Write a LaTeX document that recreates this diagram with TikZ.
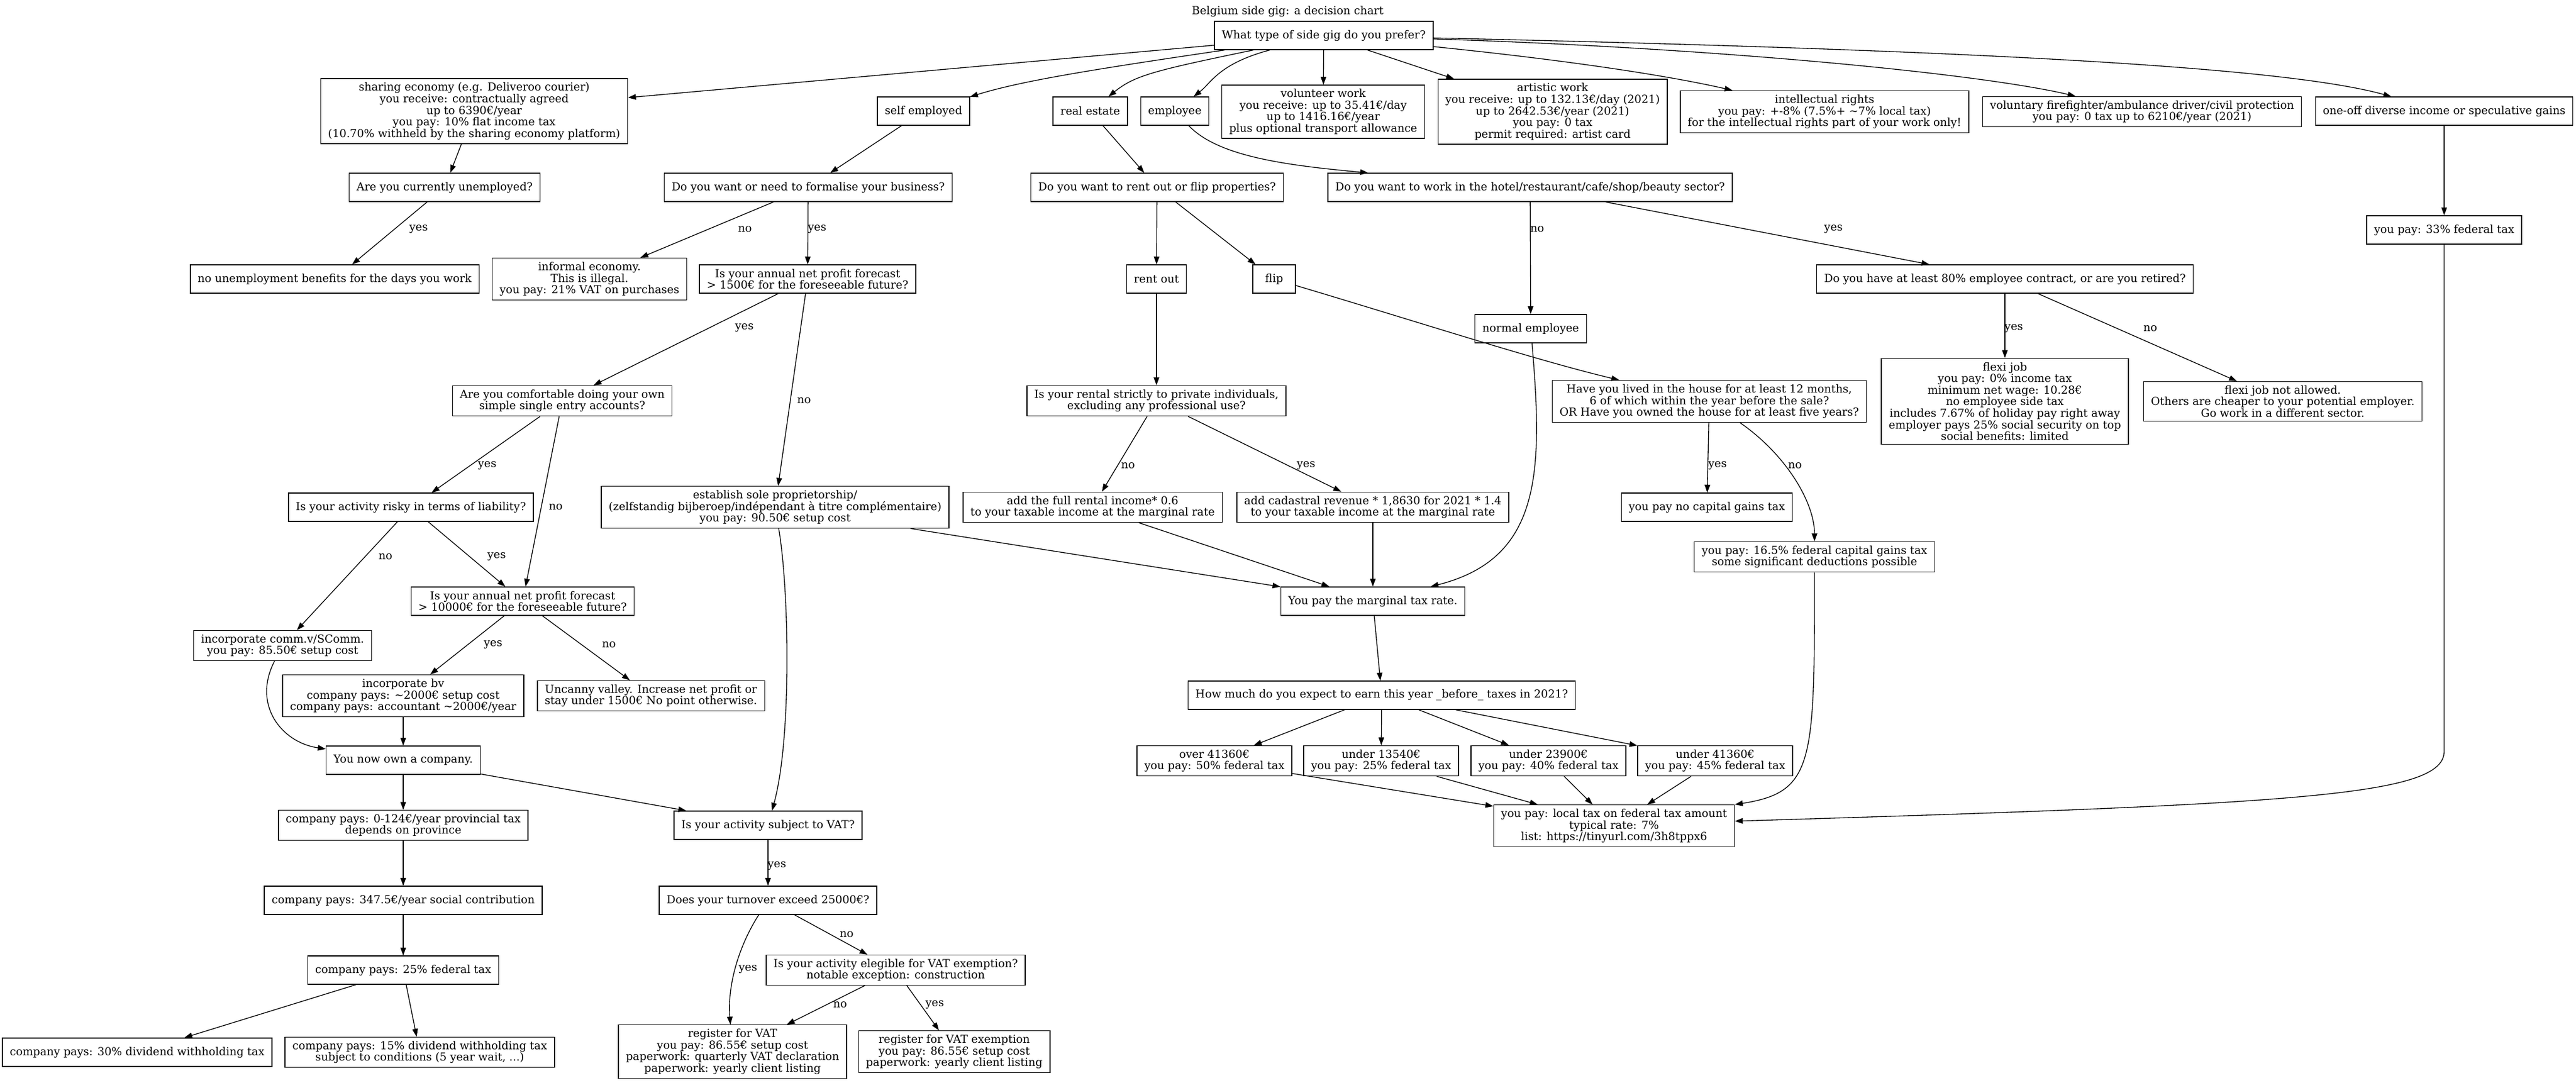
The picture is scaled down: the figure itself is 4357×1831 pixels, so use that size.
\documentclass[tikz,border=0pt]{standalone}
\usepackage{fontspec}
\setmainfont{DejaVu Serif}
\usetikzlibrary{arrows.meta,calc}

\begin{document}
\begin{tikzpicture}[x=0.75pt,y=-0.75pt]
		\tikzstyle{every node}=[font=\fontsize{14}{14.7}\selectfont]
		\tikzstyle{box}=[draw, line width=1pt, align=center, inner xsep=9.4pt, inner ysep=5pt, minimum width=54pt, minimum height=36pt]
		\tikzstyle{arr}=[line width=1pt, -{Triangle[length=10pt,width=7pt]}]
		\tikzstyle{lbl}=[inner sep=0pt]
		\useasboundingbox (0,0) rectangle (4357,1831);
		\node (title) at (2178,19) {Belgium side gig: a decision chart};
		\node [box] (root) at (2239,60) {What type of side gig do you prefer?};
		\node [box] (sharing) at (802,188) {sharing economy (e.g. Deliveroo courier)\\you receive: contractually agreed\\up to 6390€/year\\you pay: 10\% flat income tax\\(10.70\% withheld by the sharing economy platform)};
		\node [box] (selfemp) at (1562,188) {self employed};
		\node [box] (realestate) at (1844,188) {real estate};
		\node [box] (employee) at (1987,188) {employee};
		\node [box] (volunteer) at (2238,189) {volunteer work\\you receive: up to 35.41€/day\\up to 1416.16€/year\\plus optional transport allowance};
		\node [box] (artistic) at (2626,189) {artistic work\\you receive: up to 132.13€/day (2021)\\up to 2642.53€/year (2021)\\you pay: 0 tax\\permit required: artist card};
		\node [box] (intellectual) at (3086,189) {intellectual rights\\you pay: +-8\% (7.5\%+ \textasciitilde7\% local tax)\\for the intellectual rights part of your work only!};
		\node [box] (firefighter) at (3623,189) {voluntary firefighter/ambulance driver/civil protection\\you pay: 0 tax up to 6210€/year (2021)};
		\node [box] (oneoff) at (4134,188) {one-off diverse income or speculative gains};
		\node [box] (unemployed) at (752,317) {Are you currently unemployed?};
		\node [box] (formalise) at (1367,317) {Do you want or need to formalise your business?};
		\node [box] (rentflip) at (1957,317) {Do you want to rent out or flip properties?};
		\node [box] (hotel) at (2588,317) {Do you want to work in the hotel/restaurant/cafe/shop/beauty sector?};
		\node [box] (federal33) at (4134,389) {you pay: 33\% federal tax};
		\node [box] (nobenefits) at (566,472) {no unemployment benefits for the days you work};
		\node [box] (informal) at (997,472) {informal economy.\\This is illegal.\\you pay: 21\% VAT on purchases};
		\node [box] (profit1500) at (1366,472) {Is your annual net profit forecast\\> 1500€ for the foreseeable future?};
		\node [box] (rentout) at (1956,472) {rent out};
		\node [box] (flip) at (2155,472) {flip};
		\node [box] (contract80) at (3391,472) {Do you have at least 80\% employee contract, or are you retired?};
		\node [box] (normalemp) at (2589,556) {normal employee};
		\node [box] (accounts) at (951,678) {Are you comfortable doing your own\\simple single entry accounts?};
		\node [box] (rental) at (1956,678) {Is your rental strictly to private individuals,\\excluding any professional use?};
		\node [box] (lived) at (2891,679) {Have you lived in the house for at least 12 months,\\6 of which within the year before the sale?\\OR Have you owned the house for at least five years?};
		\node [box] (flexi) at (3391,679) {flexi job\\you pay: 0\% income tax\\minimum net wage: 10.28€\\no employee side tax\\includes 7.67\% of holiday pay right away\\employer pays 25\% social security on top\\social benefits: limited};
		\node [box] (flexino) at (3861,679) {flexi job not allowed.\\Others are cheaper to your potential employer.\\Go work in a different sector.};
		\node [box] (risky) at (695,858) {Is your activity risky in terms of liability?};
		\node [box] (soleprop) at (1311,858) {establish sole proprietorship/\\(zelfstandig bijberoep/indépendant à titre complémentaire)\\you pay: 90.50€ setup cost};
		\node [box] (fullrental) at (1848,858) {add the full rental income* 0.6\\to your taxable income at the marginal rate};
		\node [box] (cadastral) at (2322,858) {add cadastral revenue * 1,8630 for 2021 * 1.4\\to your taxable income at the marginal rate};
		\node [box] (nocgt) at (2887,858) {you pay no capital gains tax};
		\node [box] (cgt) at (3069,942) {you pay: 16.5\% federal capital gains tax\\some significant deductions possible};
		\node [box] (profit10000) at (884,1017) {Is your annual net profit forecast\\> 10000€ for the foreseeable future?};
		\node [box] (marginal) at (2322,1017) {You pay the marginal tax rate.};
		\node [box] (commv) at (478,1092) {incorporate comm.v/SComm.\\you pay: 85.50€ setup cost};
		\node [box] (bv) at (682,1177) {incorporate bv\\company pays: \textasciitilde2000€ setup cost\\company pays: accountant \textasciitilde2000€/year};
		\node [box] (uncanny) at (1101,1177) {Uncanny valley. Increase net profit or\\stay under 1500€ No point otherwise.};
		\node [box] (howmuch) at (2337,1176) {How much do you expect to earn this year \_before\_ taxes in 2021?};
		\node [box] (company) at (682,1286) {You now own a company.};
		\node [box] (over41360) at (2054,1287) {over 41360€\\you pay: 50\% federal tax};
		\node [box] (under13540) at (2336,1287) {under 13540€\\you pay: 25\% federal tax};
		\node [box] (under23900) at (2619,1287) {under 23900€\\you pay: 40\% federal tax};
		\node [box] (under41360) at (2901,1287) {under 41360€\\you pay: 45\% federal tax};
		\node [box] (localtax) at (2730,1397) {you pay: local tax on federal tax amount\\typical rate: 7\%\\list: https://tinyurl.com/3h8tppx6};
		\node [box] (provincial) at (682,1396) {company pays: 0-124€/year provincial tax\\depends on province};
		\node [box] (vat) at (1299,1396) {Is your activity subject to VAT?};
		\node [box] (social) at (682,1523) {company pays: 347.5€/year social contribution};
		\node [box] (turnover) at (1299,1523) {Does your turnover exceed 25000€?};
		\node [box] (federal25) at (682,1641) {company pays: 25\% federal tax};
		\node [box] (exemption) at (1515,1641) {Is your activity elegible for VAT exemption?\\notable exception: construction};
		\node [box] (dividend30) at (232,1780) {company pays: 30\% dividend withholding tax};
		\node [box] (dividend15) at (710,1780) {company pays: 15\% dividend withholding tax\\subject to conditions (5 year wait, ...)};
		\node [box] (registervat) at (1239,1779) {register for VAT\\you pay: 86.55€ setup cost\\paperwork: quarterly VAT declaration\\paperwork: yearly client listing};
		\node [box] (registerexempt) at (1614,1779) {register for VAT exemption\\you pay: 86.55€ setup cost\\paperwork: yearly client listing};
		% edges from the first question
		\draw [arr] (root) -- (sharing);
		\draw [arr] (root) .. controls (1831,120) and (1724,138) .. (selfemp);
		\draw [arr] (root) .. controls (1949,120) and (1919,128) .. (realestate);
		\draw [arr] (root) .. controls (2061,108) and (2049,140) .. (employee);
		\draw [arr] (root) -- (volunteer);
		\draw [arr] (root) -- (artistic);
		\draw [arr] (root) .. controls (2701,107) and (2853,135) .. (intellectual);
		\draw [arr] (root) .. controls (2900,81) and (3345,124) .. (firefighter);
		\draw [arr] (root) .. controls (3400,86) and (3873,116) .. (oneoff);
		% the rest
		\draw [arr] (sharing) -- (unemployed);
		\draw [arr] (unemployed) -- (nobenefits);
		\draw [arr] (selfemp) -- (formalise);
		\draw [arr] (realestate) -- (rentflip);
		\draw [arr] (employee) .. controls (2059,263) and (2166,279) .. (hotel);
		\draw [arr] (oneoff) -- (federal33);
		\draw [arr] (formalise) -- (informal);
		\draw [arr] (formalise) -- (profit1500);
		\draw [arr] (rentflip) -- (rentout);
		\draw [arr] (rentflip) -- (flip);
		\draw [arr] (hotel) -- (normalemp);
		\draw [arr] (hotel) -- (contract80);
		\draw [arr] (profit1500) -- (accounts);
		\draw [arr] (profit1500) -- (soleprop);
		\draw [arr] (rentout) -- (rental);
		\draw [arr] (flip) .. controls (2400,545) and (2600,610) .. (lived);
		\draw [arr] (contract80) -- (flexi);
		\draw [arr] (contract80) -- (flexino);
		\draw [arr] (accounts) -- (risky);
		\draw [arr] (accounts) -- (profit10000);
		\draw [arr] (rental) -- (fullrental);
		\draw [arr] (rental) -- (cadastral);
		\draw [arr] (lived) -- (nocgt);
		\draw [arr] (lived) .. controls (3021,769) and (3069,850) .. (cgt);
		\draw [arr] (risky) -- (commv);
		\draw [arr] (risky) -- (profit10000);
		\draw [arr] (soleprop) -- (marginal);
		\draw [arr] (soleprop) .. controls (1335,1000) and (1339,1250) .. (vat);
		\draw [arr] (fullrental) -- (marginal);
		\draw [arr] (cadastral) -- (marginal);
		\draw [arr] (normalemp) .. controls (2610,800) and (2607,945) .. (marginal);
		\draw [arr] (profit10000) -- (bv);
		\draw [arr] (profit10000) -- (uncanny);
		\draw [arr] (commv) .. controls (426,1192) and (476,1256) .. (company);
		\draw [arr] (bv) -- (company);
		\draw [arr] (marginal) -- (howmuch);
		\draw [arr] (howmuch) -- (over41360);
		\draw [arr] (howmuch) -- (under13540);
		\draw [arr] (howmuch) -- (under23900);
		\draw [arr] (howmuch) -- (under41360);
		\draw [arr] (over41360) -- (localtax);
		\draw [arr] (under13540) -- (localtax);
		\draw [arr] (under23900) -- (localtax);
		\draw [arr] (under41360) -- (localtax);
		\draw [arr] (cgt) .. controls (3069,1290) and (3069,1340) .. (localtax.north east);
		\draw [arr] (federal33) -- ($(federal33.south)+(0,857)$) .. controls +(0,75) and (3900,1360) .. ($(localtax.east)+(0,-8)$);
		\draw [arr] (company) -- (provincial);
		\draw [arr] (company) -- (vat);
		\draw [arr] (provincial) -- (social);
		\draw [arr] (social) -- (federal25);
		\draw [arr] (federal25) -- (dividend30);
		\draw [arr] (federal25) -- (dividend15);
		\draw [arr] (vat) -- (turnover);
		\draw [arr] (turnover) .. controls (1251,1598) and (1230,1664) .. (registervat);
		\draw [arr] (turnover) -- (exemption);
		\draw [arr] (exemption) -- (registervat);
		\draw [arr] (exemption) -- (registerexempt);
		% edge labels
		\node [lbl] (unempyes) at (708,388) {yes};
		\node [lbl] (formno) at (1260,388) {no};
		\node [lbl] (formyes) at (1382,388) {yes};
		\node [lbl] (hotelno) at (2600,388) {no};
		\node [lbl] (hotelyes) at (3101,388) {yes};
		\node [lbl] (p1500yes) at (1259,555) {yes};
		\node [lbl] (p1500no) at (1360,678) {no};
		\node [lbl] (contractyes) at (3406,556) {yes};
		\node [lbl] (contractno) at (3637,556) {no};
		\node [lbl] (accyes) at (824,788) {yes};
		\node [lbl] (accno) at (940,858) {no};
		\node [lbl] (rentalno) at (1908,788) {no};
		\node [lbl] (rentalyes) at (2209,788) {yes};
		\node [lbl] (livedyes) at (2905,788) {yes};
		\node [lbl] (livedno) at (3036,788) {no};
		\node [lbl] (riskyno) at (652,942) {no};
		\node [lbl] (riskyyes) at (840,942) {yes};
		\node [lbl] (p10000yes) at (834,1091) {yes};
		\node [lbl] (p10000no) at (1030,1091) {no};
		\node [lbl] (vatyes) at (1314,1465) {yes};
		\node [lbl] (turnno) at (1432,1581) {no};
		\node [lbl] (turnyes) at (1265,1640) {yes};
		\node [lbl] (exemptno) at (1421,1700) {no};
		\node [lbl] (exemptyes) at (1581,1700) {yes};
	\end{tikzpicture}
\end{document}
